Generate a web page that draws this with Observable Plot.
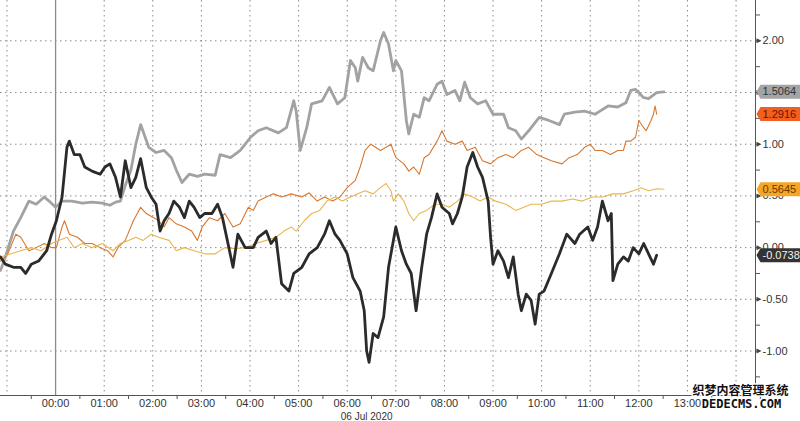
<!DOCTYPE html>
<html><head><meta charset="utf-8">
<script src="https://cdn.jsdelivr.net/npm/d3@7"></script>
<script src="https://cdn.jsdelivr.net/npm/@observablehq/plot@0.6"></script>
<style>body{margin:0;background:#fff;} #chart{width:800px;height:421px;overflow:hidden}</style>
</head><body><div id="chart"></div>
<script>
// minutes relative to 06 Jul 2020 00:00 (negative = 05 Jul)
const grayMin = [-68,-62,-52,-43,-33,-24,-14,-8,0,8,20,33,45,58,67,74,80,86,93,99,105,115,124,134,143,149,156,165,175,184,197,203,216,228,241,250,260,275,285,294,297,302,310,316,329,338,348,357,364,370,373,379,386,392,401,405,411,417,420,427,433,436,442,449,455,461,471,477,483,493,499,505,512,521,531,540,553,559,568,575,584,597,609,622,628,641,653,666,672,682,694,704,710,716,726,732,742,751];
const grayVal = [-0.22,-0.09,0.16,0.29,0.45,0.42,0.49,0.45,0.39,0.45,0.45,0.43,0.44,0.43,0.41,0.44,0.45,0.6,0.75,1.0,1.19,0.97,0.92,0.94,0.87,0.75,0.63,0.71,0.69,0.71,0.70,0.9,0.87,0.94,1.07,1.13,1.16,1.11,1.16,1.42,1.32,0.94,1.16,1.39,1.42,1.55,1.39,1.45,1.81,1.74,1.61,1.84,1.74,1.71,2.0,2.08,1.97,1.71,1.81,1.71,1.23,1.10,1.29,1.26,1.45,1.42,1.58,1.61,1.48,1.52,1.42,1.60,1.45,1.39,1.42,1.29,1.29,1.16,1.13,1.05,1.13,1.26,1.23,1.19,1.29,1.31,1.32,1.29,1.32,1.37,1.36,1.40,1.52,1.53,1.45,1.44,1.50,1.5064];

const blackMin = [-68,-62,-52,-43,-37,-30,-21,-11,-5,1,8,14,17,23,30,36,45,55,61,67,74,80,86,93,99,105,112,118,124,129,134,140,146,153,159,165,171,178,184,193,200,206,212,219,225,234,244,250,260,266,272,279,288,294,304,313,323,332,338,345,351,360,367,376,381,384,387,392,398,405,411,417,420,427,433,439,445,452,458,464,471,477,486,490,496,502,508,515,521,527,534,537,540,546,553,559,565,571,575,581,587,592,597,603,612,622,631,641,647,657,663,669,675,682,686,688,694,701,707,713,720,726,732,738,742];
const blackVal = [-0.09,-0.16,-0.19,-0.19,-0.25,-0.16,-0.13,-0.03,0.13,0.26,0.49,0.97,1.03,0.90,0.90,0.78,0.74,0.71,0.78,0.81,0.68,0.49,0.84,0.58,0.68,0.86,0.58,0.49,0.42,0.16,0.26,0.33,0.45,0.39,0.29,0.45,0.39,0.29,0.33,0.33,0.42,0.29,0.07,-0.19,0.13,0.0,0.0,0.10,0.16,0.04,0.10,-0.35,-0.42,-0.25,-0.19,-0.06,0.0,0.13,0.26,0.13,0.07,-0.06,-0.29,-0.42,-0.61,-1.0,-1.11,-0.83,-0.87,-0.67,-0.19,0.07,0.20,-0.03,-0.16,-0.25,-0.61,-0.19,0.13,0.29,0.52,0.39,0.33,0.23,0.33,0.49,0.78,0.92,0.78,0.68,0.45,0.10,-0.16,-0.03,-0.13,-0.29,-0.09,-0.45,-0.61,-0.45,-0.51,-0.74,-0.45,-0.42,-0.25,-0.06,0.13,0.04,0.13,0.20,0.07,0.20,0.45,0.26,0.33,-0.32,-0.16,-0.09,-0.13,0.0,-0.06,0.04,-0.06,-0.16,-0.0738];

const orangeMin = [-68,-59,-49,-43,-33,-24,-14,-5,1,8,11,17,27,36,45,55,64,71,77,86,96,105,112,121,127,134,140,149,159,168,175,181,190,200,209,219,228,238,244,250,260,269,279,291,304,313,323,332,342,351,360,370,376,382,389,395,401,408,414,420,430,436,442,449,455,461,471,477,483,493,502,508,518,527,537,546,556,565,575,584,594,603,612,625,634,644,653,660,666,675,685,694,701,704,710,716,720,726,729,735,738,740,742];
const orangeVal = [-0.13,-0.06,0.13,0.10,-0.03,0.0,0.04,0.0,0.0,0.20,0.26,0.13,0.10,0.04,0.04,0.0,-0.03,-0.09,0.0,0.07,0.26,0.39,0.33,0.29,0.26,0.20,0.29,0.23,0.20,0.16,0.07,0.20,0.29,0.26,0.33,0.20,0.23,0.39,0.36,0.45,0.49,0.52,0.49,0.52,0.49,0.53,0.45,0.49,0.45,0.49,0.58,0.65,0.78,0.94,1.0,0.97,0.94,0.97,1.0,0.87,0.81,0.74,0.78,0.71,0.87,0.90,1.03,1.13,1.03,1.0,1.03,0.94,0.97,0.84,0.81,0.87,0.90,0.87,0.94,0.97,0.90,0.87,0.84,0.81,0.87,0.90,0.97,1.0,0.94,0.94,0.90,0.94,0.94,1.03,1.03,1.07,1.23,1.16,1.13,1.23,1.29,1.37,1.2916];

const yellowMin = [-68,-55,-43,-30,-18,-5,4,14,23,33,45,58,71,80,90,99,108,118,127,140,149,159,171,184,197,209,222,234,247,260,272,282,291,297,307,316,326,335,345,354,364,373,382,392,401,408,414,417,423,430,436,442,449,458,468,477,486,496,505,515,524,534,543,556,568,578,587,600,612,625,638,650,663,675,688,701,713,723,732,742,751];
const yellowVal = [-0.09,-0.06,-0.03,0.0,-0.03,0.04,0.07,0.10,0.0,0.04,0.0,0.04,-0.03,0.04,0.07,0.10,0.07,0.13,0.10,0.07,-0.03,0.0,-0.03,-0.06,-0.06,0.0,-0.01,0.0,0.04,0.07,0.10,0.16,0.20,0.16,0.26,0.33,0.36,0.45,0.49,0.45,0.49,0.52,0.55,0.52,0.58,0.62,0.55,0.45,0.52,0.45,0.33,0.26,0.33,0.36,0.42,0.42,0.39,0.45,0.52,0.49,0.45,0.49,0.45,0.42,0.36,0.39,0.42,0.42,0.45,0.45,0.47,0.45,0.49,0.49,0.52,0.52,0.55,0.58,0.55,0.57,0.5645];

const lastLabels = ["1.5064", "1.2916", "0.5645", "-0.0738"];
const lastValues = [1.5064, 1.2916, 0.5645, -0.0738];
const yMajorTicks = [-1, -0.5, 0, 0.5, 1, 1.5, 2];
const yLabelTicks = [-1, -0.5, 0, 0.5, 1, 2]; // 1.50 is hidden behind the last-value box
const yMinorTicks = [-1.25,-1,-0.75,-0.5,-0.25,0,0.25,0.5,0.75,1,1.25,1.5,1.75,2,2.25];
const hourLabels = ["00:00","01:00","02:00","03:00","04:00","05:00","06:00","07:00","08:00","09:00","10:00","11:00","12:00","13:00"];
const dateLabel = "06 Jul 2020";
const watermark1 = "织梦内容管理系统";
const watermark2 = "DEDECMS.COM";

const T0 = Date.UTC(2020, 6, 6);
const toDate = m => new Date(T0 + m * 60000);
const rows = (mins, vals) => mins.map((m, i) => ({t: toDate(m), v: vals[i]}));

const xStart = toDate(-68), xEnd = toDate(864);
const hourGrid = d3.range(-1, 15).filter(h => h !== 0).map(h => toDate(h * 60));
const halfTicks = d3.range(-2, 15).map(h => toDate(h * 60 + 30));
const labelTicks = hourLabels.map((s, i) => toDate(i * 60));

const boxSymbol = {draw(ctx) { ctx.moveTo(0, 0); ctx.lineTo(4, -7); ctx.lineTo(46, -7); ctx.lineTo(46, 7); ctx.lineTo(4, 7); ctx.closePath(); }};
const triSymbol = {draw(ctx) { ctx.moveTo(0, -2.5); ctx.lineTo(5, 0); ctx.lineTo(0, 2.5); ctx.closePath(); }};
const labelRows = lastValues.map((v, i) => ({v, text: lastLabels[i],
  bg: ["#a4a4a4", "#f1601f", "#f6a524", "#333333"][i],
  fg: ["#333333", "#6e1200", "#6a3a00", "#f2f2f2"][i]}));

const font = "'Liberation Sans', Arial, sans-serif";
const plot = Plot.plot({
  width: 800, height: 421,
  marginTop: 0, marginBottom: 26, marginLeft: 0, marginRight: 45,
  x: {type: "utc", domain: [xStart, xEnd], label: null},
  y: {domain: [-1.43, 2.39], label: null},
  color: {type: "identity"},
  style: {fontFamily: font, fontSize: "11px", color: "#333", background: "#fff", overflow: "visible"},
  marks: [
    Plot.gridX(hourGrid, {stroke: "#8a8a8a", strokeOpacity: 1, strokeDasharray: "1.5,3.5"}),
    Plot.gridY(yMajorTicks, {stroke: "#8a8a8a", strokeOpacity: 1, strokeDasharray: "1.5,3.5"}),
    Plot.ruleX([toDate(0)], {stroke: "#8c8c8c", strokeWidth: 1.3}),
    Plot.line(rows(grayMin, grayVal), {x: "t", y: "v", stroke: "#a2a2a2", strokeWidth: 2.8}),
    Plot.line(rows(orangeMin, orangeVal), {x: "t", y: "v", stroke: "#d8772f", strokeWidth: 1.1}),
    Plot.line(rows(yellowMin, yellowVal), {x: "t", y: "v", stroke: "#e8b64e", strokeWidth: 1.1}),
    Plot.line(rows(blackMin, blackVal), {x: "t", y: "v", stroke: "#2b2b2b", strokeWidth: 2.8}),
    Plot.ruleY([-1.43], {stroke: "#555"}),
    Plot.ruleX([xEnd], {stroke: "#555"}),
    Plot.axisX({ticks: halfTicks, tickSize: 4, tickFormat: () => "", stroke: "#555", label: null}),
    Plot.axisX({ticks: labelTicks, tickSize: 0, tickPadding: 4, tickFormat: (d, i) => hourLabels[i], fill: "#333", label: null}),
    Plot.text([dateLabel], {x: () => toDate(384), frameAnchor: "bottom", dy: 24, text: d => d, fill: "#333", fontSize: 10}),
    Plot.axisY({anchor: "right", ticks: yMinorTicks, tickSize: 4, tickFormat: () => "", stroke: "#555", label: null}),
    Plot.axisY({anchor: "right", ticks: yLabelTicks, tickSize: 0, tickPadding: 7, tickFormat: d => d.toFixed(2), fill: "#333", label: null}),
    Plot.dot(yMajorTicks, {y: d => d, frameAnchor: "right", symbol: triSymbol, fill: "#444", stroke: null, dx: 1}),
    Plot.dot(labelRows, {y: "v", frameAnchor: "right", symbol: boxSymbol, fill: "bg", stroke: null, dx: 1}),
    Plot.text(labelRows, {y: "v", frameAnchor: "right", text: "text", fill: "fg", textAnchor: "start", dx: 7, fontSize: 11}),
    Plot.text([watermark1], {frameAnchor: "bottom-right", text: d => d, textAnchor: "middle", dx: -15, dy: -1, fontSize: 12, fontWeight: "bold", fill: "#111", stroke: "#fff", strokeWidth: 3, fontFamily: "'Noto Sans CJK SC', sans-serif"}),
    Plot.text([watermark2], {frameAnchor: "bottom-right", text: d => d, textAnchor: "middle", dx: -14, dy: 12, fontSize: 12, fontWeight: "bold", fill: "#111", stroke: "#fff", strokeWidth: 3, fontFamily: "'DejaVu Sans Mono', monospace", letterSpacing: "1.5px"})
  ]
});
document.getElementById("chart").appendChild(plot);
</script>
</body></html>
